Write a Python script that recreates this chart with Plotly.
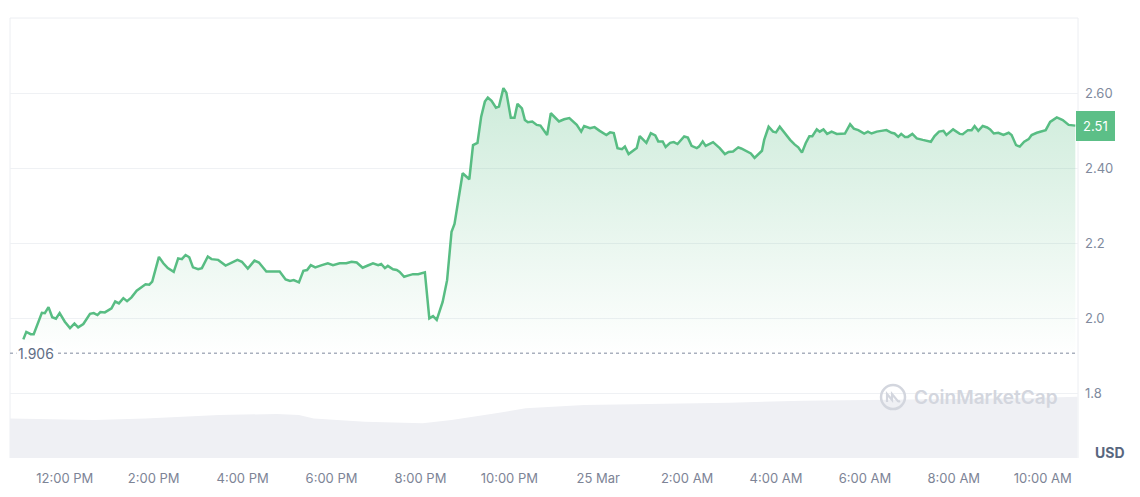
import plotly.graph_objects as go

# ---------------- data ----------------
times_mar24 = [
    "11:04", "11:08", "11:14", "11:18", "11:29", "11:33", "11:38", "11:43", "11:48", "11:53",
    "12:00", "12:07", "12:13", "12:18", "12:25", "12:34", "12:39", "12:44", "12:48", "12:54",
    "13:03", "13:08", "13:13", "13:19", "13:24", "13:30", "13:37", "13:44", "13:49", "13:54",
    "13:58", "14:07", "14:13", "14:19", "14:27", "14:33", "14:38", "14:43", "14:48", "14:53",
    "15:00", "15:05", "15:13", "15:18", "15:27", "15:37", "15:44", "15:53", "15:59", "16:07",
    "16:16", "16:22", "16:32", "16:50", "16:58", "17:04", "17:09", "17:16", "17:22", "17:27",
    "17:32", "17:38", "17:47", "17:55", "18:02", "18:11", "18:20", "18:27", "18:34", "18:42",
    "18:49", "18:56", "19:03", "19:07", "19:12", "19:16", "19:23", "19:28", "19:32", "19:38",
    "19:43", "19:50", "19:57", "20:06", "20:12", "20:17", "20:22", "20:30", "20:36", "20:42",
    "20:46", "20:57", "21:06", "21:11", "21:17", "21:22", "21:27", "21:31", "21:36", "21:42",
    "21:46", "21:52", "21:56", "22:02", "22:07", "22:11", "22:17", "22:21", "22:25", "22:31",
    "22:37", "22:42", "22:51", "22:56", "23:07", "23:14", "23:21", "23:31", "23:37", "23:41",
    "23:49", "23:55",
]
times_mar25 = [
    "00:02", "00:11", "00:16", "00:21", "00:26", "00:32", "00:36", "00:41", "00:52", "00:56",
    "01:05", "01:11", "01:17", "01:21", "01:27", "01:31", "01:37", "01:42", "01:47", "01:56",
    "02:01", "02:06", "02:13", "02:16", "02:21", "02:25", "02:35", "02:44", "02:51", "02:56",
    "03:02", "03:09", "03:13", "03:21", "03:26", "03:31", "03:36", "03:41", "03:44", "03:50",
    "03:56", "04:00", "04:05", "04:13", "04:19", "04:25", "04:30", "04:35", "04:40", "04:45",
    "04:49", "04:55", "04:59", "05:04", "05:09", "05:15", "05:22", "05:33", "05:40", "05:45",
    "05:51", "05:59", "06:04", "06:09", "06:16", "06:22", "06:29", "06:36", "06:40", "06:45",
    "06:49", "06:54", "06:58", "07:04", "07:10", "07:18", "07:29", "07:34", "07:40", "07:46",
    "07:50", "07:59", "08:08", "08:12", "08:19", "08:24", "08:28", "08:33", "08:39", "08:45",
    "08:49", "08:54", "09:00", "09:07", "09:14", "09:18", "09:24", "09:29", "09:35", "09:41",
    "09:45", "09:52", "09:59", "10:04", "10:10", "10:19", "10:27", "10:35", "10:44",
]
prices = [
    # 24 Mar
    1.943, 1.963, 1.957, 1.957, 2.014, 2.013, 2.029, 2.002, 1.998, 2.013,
    1.990, 1.973, 1.985, 1.975, 1.984, 2.011, 2.013, 2.008, 2.016, 2.015,
    2.026, 2.044, 2.039, 2.053, 2.045, 2.055, 2.073, 2.084, 2.090, 2.089,
    2.097, 2.163, 2.146, 2.133, 2.123, 2.159, 2.157, 2.168, 2.162, 2.135,
    2.130, 2.133, 2.164, 2.157, 2.155, 2.140, 2.146, 2.155, 2.150, 2.132,
    2.153, 2.148, 2.124, 2.124, 2.103, 2.099, 2.101, 2.095, 2.126, 2.128,
    2.141, 2.135, 2.141, 2.146, 2.141, 2.146, 2.146, 2.150, 2.148, 2.134,
    2.140, 2.146, 2.141, 2.144, 2.133, 2.139, 2.130, 2.128, 2.123, 2.110,
    2.113, 2.117, 2.117, 2.122, 1.999, 2.005, 1.995, 2.043, 2.101, 2.230,
    2.251, 2.386, 2.370, 2.461, 2.467, 2.537, 2.577, 2.588, 2.579, 2.561,
    2.564, 2.613, 2.601, 2.534, 2.534, 2.571, 2.559, 2.528, 2.522, 2.524,
    2.515, 2.513, 2.488, 2.546, 2.524, 2.530, 2.533, 2.515, 2.497, 2.512,
    2.506, 2.509,
    # 25 Mar
    2.499, 2.488, 2.495, 2.493, 2.453, 2.450, 2.457, 2.437, 2.453, 2.485,
    2.467, 2.493, 2.487, 2.471, 2.471, 2.456, 2.467, 2.469, 2.464, 2.484,
    2.481, 2.459, 2.453, 2.457, 2.471, 2.459, 2.469, 2.453, 2.437, 2.443,
    2.444, 2.455, 2.452, 2.445, 2.439, 2.427, 2.436, 2.446, 2.475, 2.510,
    2.497, 2.495, 2.510, 2.489, 2.475, 2.463, 2.455, 2.441, 2.466, 2.485,
    2.485, 2.503, 2.497, 2.503, 2.491, 2.497, 2.491, 2.492, 2.517, 2.505,
    2.501, 2.492, 2.497, 2.492, 2.497, 2.499, 2.501, 2.494, 2.492, 2.483,
    2.491, 2.483, 2.483, 2.491, 2.479, 2.475, 2.470, 2.485, 2.497, 2.499,
    2.488, 2.503, 2.491, 2.490, 2.501, 2.501, 2.512, 2.499, 2.512, 2.508,
    2.503, 2.492, 2.494, 2.488, 2.494, 2.488, 2.461, 2.457, 2.470, 2.477,
    2.488, 2.494, 2.497, 2.501, 2.523, 2.535, 2.528, 2.515, 2.513,
]
volume_times = [
    "2025-03-24 10:46", "2025-03-24 12:40", "2025-03-24 13:49", "2025-03-24 15:28",
    "2025-03-24 16:46", "2025-03-24 17:16", "2025-03-24 17:36", "2025-03-24 18:45",
    "2025-03-24 20:03", "2025-03-24 20:42", "2025-03-24 21:42", "2025-03-24 22:22",
    "2025-03-24 23:41", "2025-03-25 01:19", "2025-03-25 02:58", "2025-03-25 04:36",
    "2025-03-25 06:15", "2025-03-25 07:53", "2025-03-25 09:32", "2025-03-25 10:47",
]
volume = [63, 60.5, 63, 68.4, 70, 68.4, 63, 57.8, 55.2, 60.5,
          71.1, 79.1, 84.3, 85.9, 88, 91.2, 92.3, 93.4, 95, 97.5]

open_price = 1.906
x_tick_times = [
    "2025-03-24 12:00", "2025-03-24 14:00", "2025-03-24 16:00", "2025-03-24 18:00",
    "2025-03-24 20:00", "2025-03-24 22:00", "2025-03-25 00:00", "2025-03-25 02:00",
    "2025-03-25 04:00", "2025-03-25 06:00", "2025-03-25 08:00", "2025-03-25 10:00",
]
x_tick_labels = ["12:00 PM", "2:00 PM", "4:00 PM", "6:00 PM", "8:00 PM", "10:00 PM",
                 "25 Mar", "2:00 AM", "4:00 AM", "6:00 AM", "8:00 AM", "10:00 AM"]
y_tick_vals = [1.8, 2.0, 2.2, 2.4, 2.6]
y_tick_labels = ["1.8", "2.0", "2.2", "2.40", "2.60"]

price_times = (["2025-03-24 " + t for t in times_mar24]
               + ["2025-03-25 " + t for t in times_mar25])

# ---------------- figure ----------------
GREEN = "#58bd83"
GRAY_TXT = "#808a9d"
FRAME = "#eceef2"
WM = "#d3d6de"
VOL = "#eff0f4"

fig = go.Figure()

fig.add_trace(go.Scatter(
    x=volume_times, y=volume, yaxis="y2", mode="lines",
    line=dict(width=0, color=VOL), fill="tozeroy", fillcolor=VOL,
    hoverinfo="skip", showlegend=False,
))

fig.add_trace(go.Scatter(
    x=price_times, y=prices, mode="lines",
    line=dict(color=GREEN, width=2.5),
    fill="tozeroy",
    fillgradient=dict(
        type="vertical",
        colorscale=[[0, "rgba(88,189,131,0)"], [1, "rgba(88,189,131,0.30)"]],
        start=1.9, stop=2.62,
    ),
    showlegend=False,
))

# the page body has an 8px margin, so the figure is sized/margined to compensate
fig.update_layout(
    width=1132, height=489,
    margin=dict(l=2, r=62, t=10, b=39),
    paper_bgcolor="white", plot_bgcolor="white",
    showlegend=False,
    font=dict(family="Inter, sans-serif", color=GRAY_TXT, size=13),
    xaxis=dict(
        type="date",
        range=["2025-03-24 10:46", "2025-03-25 10:47:36"],
        tickvals=x_tick_times, ticktext=x_tick_labels,
        showgrid=False, zeroline=False, showline=False, ticks="",
        ticklabelstandoff=11,
        tickfont=dict(size=13, color="#7d8496"),
    ),
    yaxis=dict(
        side="right",
        range=[1.6267, 2.8],
        tickvals=y_tick_vals, ticktext=y_tick_labels,
        showgrid=True, gridcolor="#eff1f4", gridwidth=1,
        zeroline=False, showline=False, ticks="",
        ticklabelstandoff=6,
        tickfont=dict(size=13, color=GRAY_TXT),
    ),
    yaxis2=dict(overlaying="y", range=[0, 700], visible=False),
    shapes=[
        dict(type="line", xref="paper", yref="paper", x0=0, x1=1, y0=1, y1=1,
             line=dict(color=FRAME, width=1), layer="below"),
        dict(type="line", xref="paper", yref="paper", x0=0, x1=0, y0=0, y1=1,
             line=dict(color=FRAME, width=1), layer="below"),
        dict(type="line", xref="paper", yref="paper", x0=1, x1=1, y0=0, y1=1,
             line=dict(color=FRAME, width=1), layer="below"),
        dict(type="line", xref="paper", yref="y", x0=0, x1=1,
             y0=open_price, y1=open_price,
             line=dict(color="#a9b0be", width=1.5, dash="dot")),
        # watermark logo
        dict(type="circle", xref="paper", yref="paper",
             xsizemode="pixel", ysizemode="pixel",
             xanchor=0.8268, yanchor=0.1386, x0=-12, x1=12, y0=-12, y1=12,
             line=dict(color=WM, width=2.5)),
        dict(type="path", xref="paper", yref="paper",
             xsizemode="pixel", ysizemode="pixel",
             xanchor=0.8268, yanchor=0.1386,
             path="M -6,-5 L -6,3 L -1,-3 L -1,3 L 4,-3 Q 5,-5 7,-4",
             line=dict(color=WM, width=2.2)),
    ],
    annotations=[
        dict(text=f"{open_price}", xref="paper", yref="y", x=0.006, y=open_price,
             xanchor="left", yanchor="middle", showarrow=False,
             bgcolor="white", borderpad=1,
             font=dict(size=14, color="#616e85")),
        dict(text="CoinMarketCap", xref="paper", yref="paper", x=0.8446, y=0.1386,
             xanchor="left", yanchor="middle", showarrow=False,
             font=dict(size=19, color=WM, weight=600)),
        dict(text="USD", xref="paper", yref="paper", x=1.014, y=0.0136,
             xanchor="left", yanchor="middle", showarrow=False,
             font=dict(size=14, color="#58667e", weight="bold")),
        dict(text=f"{prices[-1]:.2f}", xref="paper", yref="y", x=1, y=prices[-1],
             xanchor="left", yanchor="middle", xshift=-2, showarrow=False,
             bgcolor="#5cbf87", bordercolor="#5cbf87", borderpad=6,
             font=dict(size=13, color="white")),
    ],
)

fig.write_html("out.html")
